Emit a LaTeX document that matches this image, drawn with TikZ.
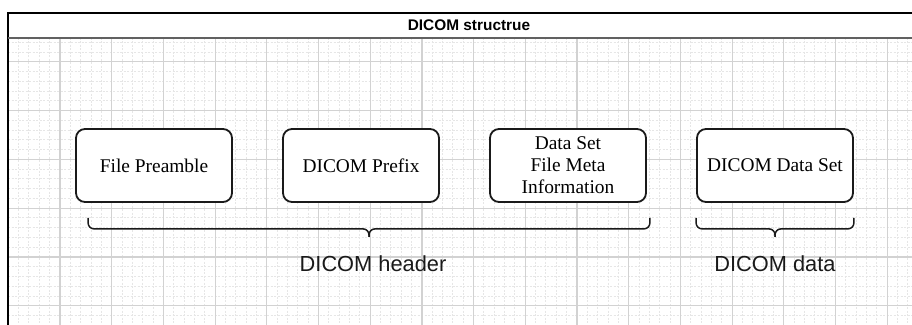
\documentclass[tikz,border=0pt]{standalone}
\usepackage{fontspec}
\setmainfont{Liberation Serif}
\setsansfont{Liberation Sans}
\usepackage{tikz}
\usetikzlibrary{
  positioning,
  calc
}
\definecolor{dcMajor}{HTML}{D2D2D2}
\definecolor{dcMinor}{HTML}{E6E6E6}
\definecolor{dcSep}{HTML}{616161}
\definecolor{dcInk}{HTML}{1A1A1A}
\tikzset{
  dcbox/.style={
    draw=dcInk, rounded corners=4.5pt, line width=0.9pt, fill=white,
    minimum width=78pt, minimum height=36.5pt, align=center, inner sep=1pt,
    font=\fontsize{9.7}{11}\selectfont
  },
  dcbrace/.style={draw=dcInk, line width=0.75pt, rounded corners=3pt},
  dclabel/.style={font=\sffamily\fontsize{10.9}{13}\selectfont, text=dcInk, anchor=base, inner sep=0pt},
  dctitle/.style={font=\sffamily\bfseries\fontsize{7.7}{9}\selectfont, inner sep=0pt},
  minorgrid/.style={dcMinor, line width=0.5pt, dash pattern=on 1pt off 0.75pt},
  majorgrid/.style={dcMajor, line width=0.6pt},
  frameline/.style={black, line width=0.6pt},
  sepline/.style={dcSep, line width=1.1pt}
}

\begin{document}
\begin{tikzpicture}[x=0.5pt, y=-0.5pt, node distance=24.6pt]
  \path[use as bounding box, fill=white] (0,0) rectangle (912,325);
  \foreach \i in {1,...,87}
    \draw[minorgrid] ({8.3+10.34*\i},38) -- ({8.3+10.34*\i},325);
  \foreach \j in {3,...,32}
    \draw[minorgrid] (8,{13+9.76*\j}) -- (912,{13+9.76*\j});
  \foreach \i in {1,...,17}
    \draw[majorgrid] ({8.3+51.7*\i},38) -- ({8.3+51.7*\i},325);
  \foreach \j in {1,...,6}
    \draw[majorgrid] (8,{13+48.8*\j}) -- (912,{13+48.8*\j});
  \draw[frameline] (8,325) -- (8,13) -- (912,13);
  \draw[sepline] (8,38) -- (912,38);
  \node[dctitle] (title) at (469,25.5) {DICOM structrue};

  \node[dcbox] (pre) at (154,165.5) {File Preamble};
  \node[dcbox, right=of pre] (pfx) {DICOM Prefix};
  \node[dcbox, right=of pfx] (meta) {Data Set\\File Meta\\Information};
  \node[dcbox, right=of meta] (dset) {DICOM Data Set};

  \coordinate (hdrL) at ($(pre.south west)+(13,15)$);
  \coordinate (hdrR) at ($(meta.south east)+(3,15)$);
  \coordinate (hdrmid) at ($(hdrL)!0.5!(hdrR)+(0,11)$);
  \coordinate (hdrtip) at ($(hdrmid)+(0,8)$);
  \draw[dcbrace] (hdrL) |- (hdrmid) -- (hdrtip);
  \draw[dcbrace] (hdrR) |- (hdrmid) -- (hdrtip);

  \coordinate (datL) at ($(dset.south west)+(0,15)$);
  \coordinate (datR) at ($(dset.south east)+(0,15)$);
  \coordinate (datmid) at ($(datL)!0.5!(datR)+(0,11)$);
  \coordinate (dattip) at ($(datmid)+(0,8)$);
  \draw[dcbrace] (datL) |- (datmid) -- (dattip);
  \draw[dcbrace] (datR) |- (datmid) -- (dattip);

  \node[dclabel] (hdrlbl) at ($(hdrtip)+(4,35)$) {DICOM header};
  \node[dclabel] (datlbl) at ($(dattip)+(0,35)$) {DICOM data};
\end{tikzpicture}
\end{document}
